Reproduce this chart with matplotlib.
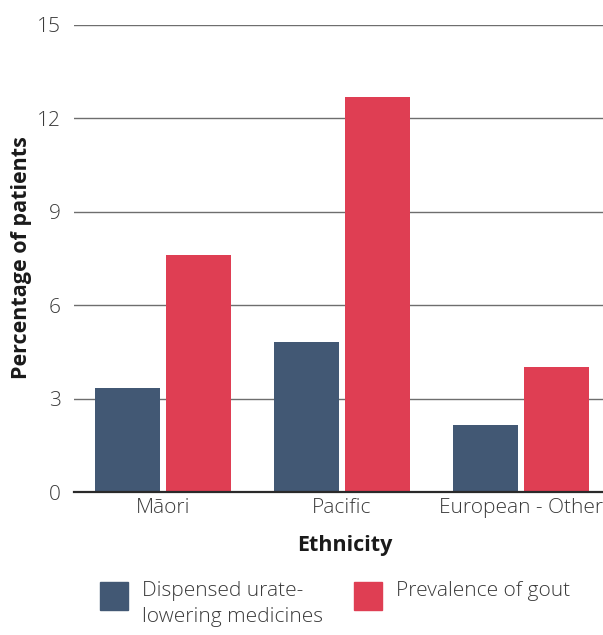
import numpy as np
import matplotlib
matplotlib.use('Agg')
import matplotlib.pyplot as plt
from matplotlib.patches import Rectangle

plt.rcParams['font.family'] = ['Open Sans', 'DejaVu Sans']

groups = ['Māori', 'Pacific', 'European - Other']
dispensed = [3.35, 4.82, 2.15]
prevalence = [7.6, 12.7, 4.0]
labels = ['Dispensed urate-\nlowering medicines', 'Prevalence of gout']
colors = ['#425874', '#df3e53']

W, H = 603, 635
fig = plt.figure(figsize=(W/100, H/100), dpi=100)
ax = fig.add_axes([73.5/W, 1 - 492/H, 536.5/W, 467/H])

x = np.arange(len(groups))
w = 0.363
gap = 0.034
ax.bar(x - w/2 - gap/2, dispensed, w, color=colors[0], zorder=3)
ax.bar(x + w/2 + gap/2, prevalence, w, color=colors[1], zorder=3)

ax.set_xlim(-0.5, 2.5)
ax.set_ylim(0, 15)
ax.set_yticks([0, 3, 6, 9, 12, 15])
ax.yaxis.grid(True, color='#6e6e6e', linewidth=1.0, zorder=0)
ax.set_axisbelow(True)
for s in ['top', 'right', 'left']:
    ax.spines[s].set_visible(False)
ax.spines['bottom'].set_color('#2a2a2a')
ax.spines['bottom'].set_linewidth(1.6)
ax.spines['bottom'].set_zorder(4)
ax.tick_params(axis='both', length=0, labelsize=15, labelcolor='#3a3a3a')
ax.tick_params(axis='y', pad=9)
ax.tick_params(axis='x', pad=4)
ax.set_xticks(x)
ax.set_xticklabels(groups)
for t in ax.get_xticklabels() + ax.get_yticklabels():
    t.set_fontweight('light')

fig.text(22/W, 1 - 258/H, 'Percentage of patients', rotation=90, ha='center', va='center',
         fontsize=15.5, fontweight='bold', color='#1a1a1a')
fig.text(345/W, 1 - 546/H, 'Ethnicity', ha='center', va='center',
         fontsize=15.5, fontweight='bold', color='#1a1a1a')

# legend drawn by hand so the wrapped label sits like the reference
legend_x = [100, 354]
for lx, c, lab in zip(legend_x, colors, labels):
    fig.patches.append(Rectangle((lx/W, 1 - 610/H), 28/W, 28/H, color=c,
                                 transform=fig.transFigure, figure=fig))
    fig.text((lx + 42)/W, 1 - 581/H, lab, ha='left', va='top', fontsize=15,
             color='#3a3a3a', fontweight='light', linespacing=1.4)

fig.savefig('out.png', dpi=100)
